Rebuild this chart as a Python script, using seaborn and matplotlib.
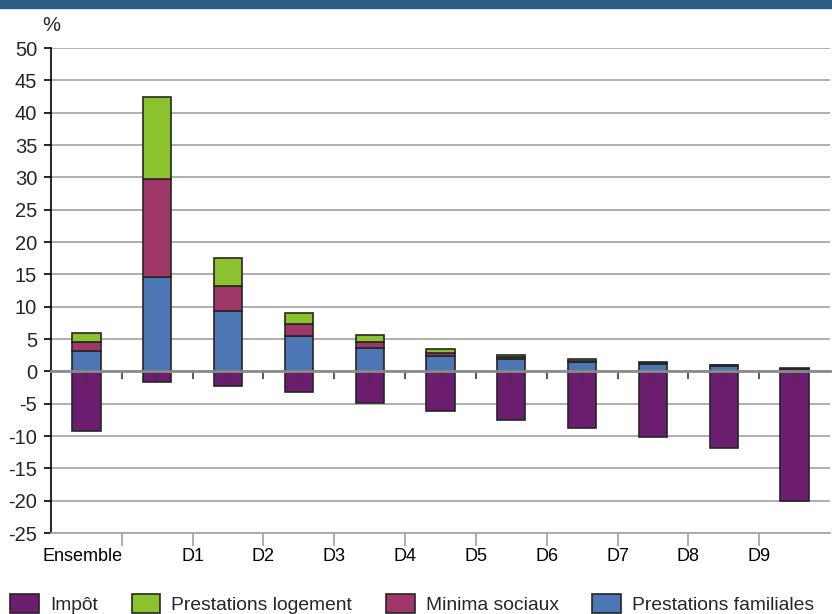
import numpy as np
import pandas as pd
import matplotlib.pyplot as plt
import seaborn as sns
from matplotlib.patches import Patch, Rectangle

# categories and values (in %)
categories = ["Ensemble", "D1", "D2", "D3", "D4", "D5", "D6", "D7", "D8", "D9", "D10"]
impot = [-9.3, -1.6, -2.2, -3.2, -4.85, -6.2, -7.5, -8.7, -10.1, -11.9, -20.1]
prest_fam = [3.2, 14.6, 9.3, 5.45, 3.65, 2.4, 1.95, 1.45, 1.1, 0.9, 0.4]
minima = [1.3, 15.1, 3.95, 1.85, 0.9, 0.4, 0.3, 0.2, 0.15, 0.05, 0.03]
logement = [1.5, 12.8, 4.35, 1.8, 1.0, 0.6, 0.3, 0.2, 0.15, 0.05, 0.05]
tick_labels = ["Ensemble", "D1", "D2", "D3", "D4", "D5", "D6", "D7", "D8", "D9"]

colors = {"Impôt": "#6b1d70", "Prestations logement": "#8dc22f",
          "Minima sociaux": "#9f3768", "Prestations familiales": "#4c76b4"}

df = pd.DataFrame({"cat": categories, "impot": impot, "fam": prest_fam,
                   "minima": minima, "logement": logement})

sns.set_style("white")
plt.rcParams["font.family"] = ["Liberation Sans", "DejaVu Sans"]
plt.rcParams["axes.unicode_minus"] = False

fig = plt.figure(figsize=(8.32, 6.14), dpi=100)
ax = fig.add_axes([0.0613, 0.1319, 0.9363, 0.7899])

bar_kw = dict(errorbar=None, saturation=1, width=0.4, edgecolor="#262626",
              linewidth=1.2, ax=ax, zorder=3)
df["b_min"] = df["fam"]
df["b_log"] = df["fam"] + df["minima"]
sns.barplot(data=df, x="cat", y="fam", color=colors["Prestations familiales"], **bar_kw)
sns.barplot(data=df, x="cat", y="minima", bottom=df["b_min"].values,
            color=colors["Minima sociaux"], **bar_kw)
sns.barplot(data=df, x="cat", y="logement", bottom=df["b_log"].values,
            color=colors["Prestations logement"], **bar_kw)
sns.barplot(data=df, x="cat", y="impot", color=colors["Impôt"], **bar_kw)

ax.set_xlim(-0.5, len(categories) - 0.5)
ax.set_ylim(-25, 50)
ax.set_yticks(np.arange(-25, 51, 5))
ax.yaxis.grid(True, color="#a8a8a8", linewidth=1.3, zorder=0)
ax.set_axisbelow(True)
ax.set_xlabel("")
ax.set_ylabel("")

# x labels sit on the ticks between the bars; "Ensemble" nudged inside
between = np.arange(0.5, len(categories) - 1, 1)
ax.set_xticks(between, [""] + tick_labels[1:])
ax.set_xticks([-0.06], tick_labels[:1], minor=True)
ax.tick_params(axis="x", which="major", direction="out", length=9, width=1.2,
               color="#a0a0a0", pad=2, labelsize=13, labelcolor="black", bottom=True)
ax.tick_params(axis="x", which="minor", length=0, pad=11, labelsize=13,
               labelcolor="black", bottom=True)
ax.tick_params(axis="y", length=5, width=1.2, color="black", pad=5, labelsize=14.5,
               left=True)

for s in ["top", "right"]:
    ax.spines[s].set_visible(False)
ax.spines["left"].set_color("black")
ax.spines["left"].set_linewidth(1.2)
ax.spines["bottom"].set_color("#a8a8a8")
ax.spines["bottom"].set_linewidth(1.3)

# zero axis with tick marks
zax = ax.secondary_xaxis(0, transform=ax.transData)
zax.set_xticks(np.arange(0, len(categories) - 0.5, 0.5))
zax.set_xticklabels([])
zax.tick_params(direction="out", length=6, width=1.2, color="#3a3a3a")
zax.spines["bottom"].set_color("#8c8c8c")
zax.spines["bottom"].set_linewidth(2)
zax.set_zorder(4)

fig.text(0.0505, 0.958, "%", fontsize=14.5, va="center", ha="left")

# top banner
fig.patches.append(Rectangle((0, 1 - 8 / 614), 1, 8 / 614, transform=fig.transFigure,
                             color="#2c5f86", zorder=5))

handles = [Patch(facecolor=c, edgecolor="#262626", linewidth=1.2) for c in colors.values()]
fig.legend(handles, list(colors.keys()), loc="lower left", bbox_to_anchor=(0.003, -0.012),
           ncol=4, frameon=False, fontsize=13.9, handlelength=1.5, handleheight=1.15,
           handletextpad=0.56, columnspacing=1.75, borderaxespad=0)

fig.savefig("out.png", dpi=100)
